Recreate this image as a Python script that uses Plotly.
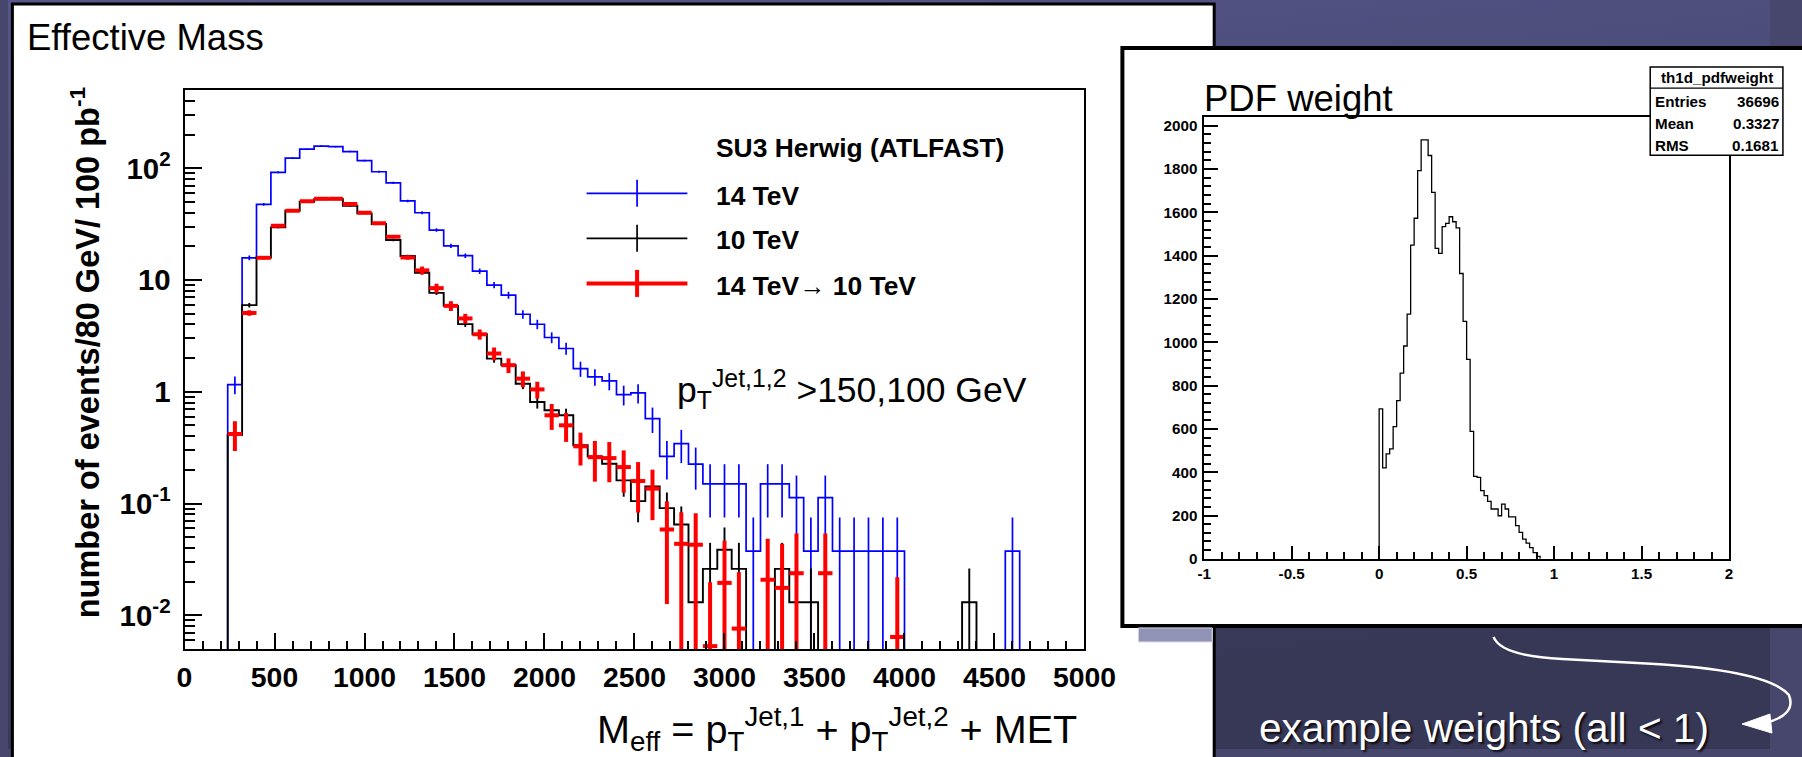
import base64
import plotly.graph_objects as go

W, H = 1802, 757
# small layout calibration (observed render offset/scale of the page)
OX, SX, SY = 7.1, 0.98, 0.988


def px(x):
    return ((x - OX) / SX) / W


def py(y):
    return 1 - (y / SY) / H


def fs(v):
    return round(v / 0.985, 1)


# ---------------- data: effective mass (80 GeV bins starting at 240 GeV) ----------------
meff_first_edge = 240
meff_bin_width = 80
meff_14tev = [1.16, 15.8, 47.6, 92, 123, 148, 158, 156, 141, 117, 93, 74, 51, 40, 28, 20.2,
              16.5, 12.0, 9.0, 7.32, 4.94, 4.02, 3.06, 2.44, 1.61, 1.36, 1.25, 0.944, 0.976, 0.575,
              0.264, 0.343, 0.225, 0.150, 0.150, 0.150, 0.0375, 0.150, 0.150, 0.113, 0.0375, 0.113,
              0.0375, 0.0375, 0.0375, 0.0375, 0.0375, 0, 0, 0, 0, 0, 0, 0, 0.0375]
meff_14tev_err = [0.209, 0.77, 1.34, 1.86, 2.15, 2.36, 2.43, 2.42, 2.30, 2.09, 1.87, 1.67, 1.38, 1.22, 1.02, 0.87,
                  0.79, 0.67, 0.58, 0.52, 0.43, 0.39, 0.34, 0.30, 0.25, 0.23, 0.22, 0.19, 0.19, 0.147,
                  0.0995, 0.113, 0.092, 0.075, 0.075, 0.075, 0.0375, 0.075, 0.075, 0.065, 0.0375, 0.065,
                  0.0375, 0.0375, 0.0375, 0.0375, 0.0375, 0, 0, 0, 0, 0, 0, 0, 0.0375]
meff_10tev = [0.41, 5.96, 15.9, 29.6, 41.7, 50.2, 52.8, 52.8, 46.2, 39.5, 31.7, 22.8, 16.4, 11.6, 7.68, 5.87,
              4.03, 3.27, 1.98, 1.73, 1.18, 0.81, 0.683, 0.616, 0.332, 0.264, 0.227, 0.161, 0.105, 0.142,
              0.091, 0.065, 0.0131, 0.026, 0.0386, 0.026, 0, 0, 0.026, 0.0131, 0.0131,
              0, 0, 0, 0, 0, 0, 0, 0, 0, 0, 0.0131, 0, 0, 0]
meff_10tev_err = [0.073, 0.279, 0.456, 0.62, 0.74, 0.81, 0.83, 0.83, 0.78, 0.72, 0.64, 0.55, 0.46, 0.39, 0.32, 0.277,
                  0.23, 0.207, 0.161, 0.15, 0.124, 0.103, 0.0946, 0.0898, 0.066, 0.0588, 0.0545, 0.0459, 0.0371, 0.0431,
                  0.0345, 0.0292, 0.0131, 0.0185, 0.0225, 0.0185, 0, 0, 0.0185, 0.0131, 0.0131,
                  0, 0, 0, 0, 0, 0, 0, 0, 0, 0, 0.0131, 0, 0, 0]
meff_14to10 = [0.42, 5.08, 15.8, 30.6, 41.7, 50.6, 53.4, 53.4, 47.9, 40.0, 32.2, 24.4, 15.9, 12.2, 8.46, 5.87,
               4.53, 3.27, 2.2, 1.73, 1.31, 1.05, 0.616, 0.501, 0.325, 0.26, 0.255, 0.212, 0.159, 0.136,
               0.0586, 0.0436, 0.0428, 0.0053, 0.0195, 0.0076, 0, 0.0208, 0.0176, 0.0238, 0, 0.0238,
               0, 0, 0, 0, 0.0064, 0, 0, 0, 0, 0, 0, 0, 0]
meff_14to10_err = [0.125, 0.29, 0.5, 0.8, 1.0, 1.1, 1.2, 1.2, 1.1, 1.0, 0.9, 0.8, 0.7, 1.0, 0.8, 0.59,
                   0.45, 0.34, 0.29, 0.26, 0.21, 0.18, 0.16, 0.145, 0.106, 0.103, 0.10, 0.087, 0.076, 0.065,
                   0.046, 0.040, 0.039, 0.0145, 0.027, 0.0167, 0, 0.0275, 0.026, 0.030, 0, 0.030,
                   0, 0, 0, 0, 0.0155, 0, 0, 0, 0, 0, 0, 0, 0]

meff_xticks = [0, 500, 1000, 1500, 2000, 2500, 3000, 3500, 4000, 4500, 5000]
meff_yticks = [0.01, 0.1, 1, 10, 100]
meff_yticktext = ["10<sup>-2</sup>", "10<sup>-1</sup>", "1", "10", "10<sup>2</sup>"]

legend_title = "SU3 Herwig (ATLFAST)"
legend_labels = ["14 TeV", "10 TeV", "14 TeV\u2192 10 TeV"]

# ---------------- data: PDF weight histogram (0.02 bins from 0) ----------------
pdf_first_edge = 0.0
pdf_bin_width = 0.02
pdf_counts = [693, 420, 485, 508, 611, 731, 858, 983, 1130, 1449, 1573, 1793, 1935, 1935, 1863, 1693,
              1434, 1411, 1534, 1549, 1580, 1557, 1529, 1318, 1097, 921, 589, 381, 376, 315, 292, 265,
              230, 230, 199, 253, 230, 194, 194, 153, 122, 91, 72, 52, 29, 11]
pdf_xticks = [-1, -0.5, 0, 0.5, 1, 1.5, 2]
pdf_xticktext = ["-1", "-0.5", "0", "0.5", "1", "1.5", "2"]
pdf_yticks = [0, 200, 400, 600, 800, 1000, 1200, 1400, 1600, 1800, 2000]
stats_name = "th1d_pdfweight"
stats_labels = ["Entries", "Mean", "RMS"]
stats_values = ["36696", "0.3327", "0.1681"]

# ---------------- helpers ----------------
FONT = "Liberation Sans, Arial, sans-serif"
NARROW = "Liberation Sans Narrow, Liberation Sans, Arial, sans-serif"
FLOOR = 1e-3


def edges_of(first, width, n):
    return [first + i * width for i in range(n + 1)]


def step_xy(vals, edges, floor):
    xs = [edges[0]] + edges[:-1] + [edges[-1]]
    ys = [floor] + [v if v > 0 else floor for v in vals] + [floor]
    return xs, ys


def err_points(vals, errs, edges):
    xs, ys, ep, em = [], [], [], []
    for i, (v, e) in enumerate(zip(vals, errs)):
        if v > 0:
            xs.append((edges[i] + edges[i + 1]) / 2)
            ys.append(v)
            ep.append(e)
            em.append(v - max(v - e, 1e-4))
    return xs, ys, ep, em


n = len(meff_14tev)
meff_edges = edges_of(meff_first_edge, meff_bin_width, n)

fig = go.Figure()

for vals, errs, col, lw in [(meff_14tev, meff_14tev_err, "#0000ff", 1.7),
                            (meff_10tev, meff_10tev_err, "#000000", 1.9)]:
    hx, hy = step_xy(vals, meff_edges, FLOOR)
    fig.add_trace(go.Scatter(x=hx, y=hy, mode="lines", line=dict(color=col, width=lw, shape="hv"),
                             xaxis="x", yaxis="y", showlegend=False, hoverinfo="skip"))
    ex, ey, ep, em = err_points(vals, errs, meff_edges)
    fig.add_trace(go.Scatter(x=ex, y=ey, mode="markers", marker=dict(size=1, color=col),
                             error_y=dict(type="data", array=ep, arrayminus=em, symmetric=False,
                                          color=col, thickness=lw, width=0),
                             xaxis="x", yaxis="y", showlegend=False))

ex, ey, ep, em = err_points(meff_14to10, meff_14to10_err, meff_edges)
fig.add_trace(go.Scatter(x=ex, y=ey, mode="markers", marker=dict(size=1, color="#ff0000"),
                         error_y=dict(type="data", array=ep, arrayminus=em, symmetric=False,
                                      color="#ff0000", thickness=4, width=0),
                         error_x=dict(type="constant", value=meff_bin_width / 2, color="#ff0000",
                                      thickness=4, width=0),
                         xaxis="x", yaxis="y", showlegend=False))

pdf_edges = edges_of(pdf_first_edge, pdf_bin_width, len(pdf_counts))
hx, hy = step_xy(pdf_counts, pdf_edges, 0)
fig.add_trace(go.Scatter(x=hx, y=hy, mode="lines", line=dict(color="black", width=1.3, shape="hv"),
                         xaxis="x2", yaxis="y2", showlegend=False, hoverinfo="skip"))

minor_log = [k * 10 ** d for d in range(-3, 3) for k in range(2, 10) if 0.005 <= k * 10 ** d <= 500]

xtickfont = dict(family=FONT, size=fs(28), color="black", weight="bold")
ytickfont = dict(family=FONT, size=fs(29), color="black", weight="bold")
tickfont_small = dict(family=NARROW, size=fs(15), color="black", weight="bold")

fig.update_layout(
    width=W, height=H, margin=dict(l=0, r=0, t=0, b=0),
    paper_bgcolor="#47476e", plot_bgcolor="rgba(0,0,0,0)",
    showlegend=False,
    xaxis=dict(domain=[px(184), px(1086)], range=[0, 5000], tickvals=meff_xticks,
               ticks="inside", ticklen=16, tickwidth=2, tickcolor="black",
               minor=dict(ticks="inside", dtick=100, ticklen=8, tickwidth=2, tickcolor="black"),
               showline=True, linewidth=2, linecolor="black", mirror=True,
               showgrid=False, zeroline=False, tickfont=xtickfont, ticklabelstandoff=2,
               anchor="y"),
    yaxis=dict(domain=[py(648), py(90)], type="log", range=[-2.301, 2.699],
               tickvals=meff_yticks, ticktext=meff_yticktext,
               ticks="inside", ticklen=17, tickwidth=2, tickcolor="black",
               minor=dict(ticks="inside", tickmode="array", tickvals=minor_log, ticklen=10,
                          tickwidth=1.5, tickcolor="black"),
               showline=True, linewidth=2, linecolor="black", mirror=True,
               showgrid=False, zeroline=False, tickfont=ytickfont, ticklabelstandoff=6,
               anchor="x"),
    xaxis2=dict(domain=[px(1206), px(1732)], range=[-1, 2], tickvals=pdf_xticks, ticktext=pdf_xticktext,
                ticks="inside", ticklen=13, tickwidth=1.5, tickcolor="black",
                minor=dict(ticks="inside", dtick=0.1, ticklen=7, tickwidth=1.5, tickcolor="black"),
                showline=True, linewidth=1.5, linecolor="black", mirror=True,
                showgrid=False, zeroline=False, tickfont=tickfont_small, ticklabelstandoff=0,
                anchor="y2"),
    yaxis2=dict(domain=[py(558), py(117)], range=[0, 2040], tickvals=pdf_yticks,
                ticks="inside", ticklen=14, tickwidth=1.5, tickcolor="black",
                minor=dict(ticks="inside", dtick=40, ticklen=7, tickwidth=1.5, tickcolor="black"),
                showline=True, linewidth=1.5, linecolor="black", mirror=True,
                showgrid=False, zeroline=False, tickfont=tickfont_small, ticklabelstandoff=2,
                anchor="x2"),
)

# background gradient image
svg = ("<svg xmlns='http://www.w3.org/2000/svg' width='1802' height='757'>"
       "<defs><linearGradient id='g' x1='0' y1='0' x2='0.25' y2='1'>"
       "<stop offset='0' stop-color='#56568a'/><stop offset='1' stop-color='#373756'/>"
       "</linearGradient></defs><rect width='1802' height='757' fill='url(#g)'/></svg>")
fig.add_layout_image(dict(source="data:image/svg+xml;base64," + base64.b64encode(svg.encode()).decode(),
                          xref="paper", yref="paper", x=0, y=1, sizex=1, sizey=1,
                          xanchor="left", yanchor="top", sizing="stretch", layer="below"))

shapes = []
# panels
shapes.append(dict(type="rect", xref="paper", yref="paper", x0=4.5 / W, x1=px(1216), y0=py(775), y1=py(4),
                   fillcolor="white", line=dict(color="black", width=3), layer="below"))
shapes.append(dict(type="rect", xref="paper", yref="paper", x0=px(1124), x1=px(1830), y0=py(625), y1=py(48),
                   fillcolor="white", line=dict(color="black", width=4), layer="below"))
shapes.append(dict(type="rect", xref="paper", yref="paper", x0=px(1140), x1=px(1214), y0=py(641), y1=py(627),
                   fillcolor="#9193b6", line=dict(color="#d6d6e6", width=1), layer="below"))

# legend symbols
for yy, col, lw in [(193, "#0000ff", 1.7), (238, "#000000", 1.7), (283, "#ff0000", 4)]:
    shapes.append(dict(type="line", xref="paper", yref="paper", x0=px(587), x1=px(688), y0=py(yy), y1=py(yy),
                       line=dict(color=col, width=lw)))
    shapes.append(dict(type="line", xref="paper", yref="paper", x0=px(637.6), x1=px(637.6),
                       y0=py(yy - 13.5), y1=py(yy + 13.5), line=dict(color=col, width=lw)))

# stats box
shapes.append(dict(type="rect", xref="paper", yref="paper", x0=px(1653), x1=px(1786), y0=py(155), y1=py(67),
                   fillcolor="white", line=dict(color="black", width=1.5), layer="above"))
shapes.append(dict(type="line", xref="paper", yref="paper", x0=px(1653), x1=px(1786), y0=py(88), y1=py(88),
                   line=dict(color="black", width=1.2), layer="above"))


def path_from(points_cmds):
    out = []
    for cmd, pts in points_cmds:
        coords = " ".join(f"{px(x):.5f},{py(y):.5f}" for x, y in pts)
        out.append(f"{cmd}{coords}")
    return " ".join(out)


arrow_path = path_from([("M", [(1496, 636)]), ("Q", [(1503, 655), (1565, 658)]),
                        ("L", [(1640, 662)]), ("Q", [(1770, 668), (1792, 694)]),
                        ("Q", [(1800, 714), (1768, 722)])])
shapes.append(dict(type="path", xref="paper", yref="paper", path=arrow_path,
                   line=dict(color="white", width=2.5), layer="above"))
head_path = path_from([("M", [(1745, 723)]), ("L", [(1773, 713)]), ("L", [(1775, 732)])]) + " Z"
shapes.append(dict(type="path", xref="paper", yref="paper", path=head_path, fillcolor="white",
                   line=dict(color="white", width=1), layer="above"))
fig.update_layout(shapes=shapes)

ann = []


def text(x, y, s, size, xanchor="left", bold=False, color="black", angle=0, family=FONT, shadow=None):
    f = dict(family=family, size=fs(size), color=color)
    if shadow:
        f["shadow"] = shadow
    ann.append(dict(xref="paper", yref="paper", x=px(x), y=py(y), text=(f"<b>{s}</b>" if bold else s),
                    showarrow=False, xanchor=xanchor, yanchor="middle", font=f, textangle=angle,
                    borderpad=0))


text(25, 37, "Effective Mass", 36)
text(84, 352, "number of events/80 GeV/ 100 pb<sup>-1</sup>", 32, xanchor="center", bold=True, angle=-90)
text(1080, 728, "M<sub>eff</sub> = p<sub>T</sub><sup>Jet,1</sup> + p<sub>T</sub><sup>Jet,2</sup> + MET", 39,
     xanchor="right")
text(716, 148, legend_title, 26, bold=True)
for lab, yy in zip(legend_labels, [196, 240, 286]):
    text(716, yy, lab, 26, bold=True)
text(677, 389, "p<sub>T</sub><sup>Jet,1,2</sup> &gt;150,100 GeV", 35)

text(1205, 98, "PDF weight", 36)
text(1719.5, 77.5, stats_name, 15, xanchor="center", bold=True, family=NARROW)
for lab, val, yy in zip(stats_labels, stats_values, [101.7, 123.3, 145.7]):
    text(1657, yy, lab, 15, bold=True, family=NARROW)
    text(1783, yy, val, 15, xanchor="right", bold=True, family=NARROW)

text(1486, 727, "example weights (all &lt; 1)", 40, xanchor="center", color="white",
     shadow="2px 2px 2px rgba(0,0,0,0.8)")
fig.update_layout(annotations=ann)

fig.write_html("out.html")
